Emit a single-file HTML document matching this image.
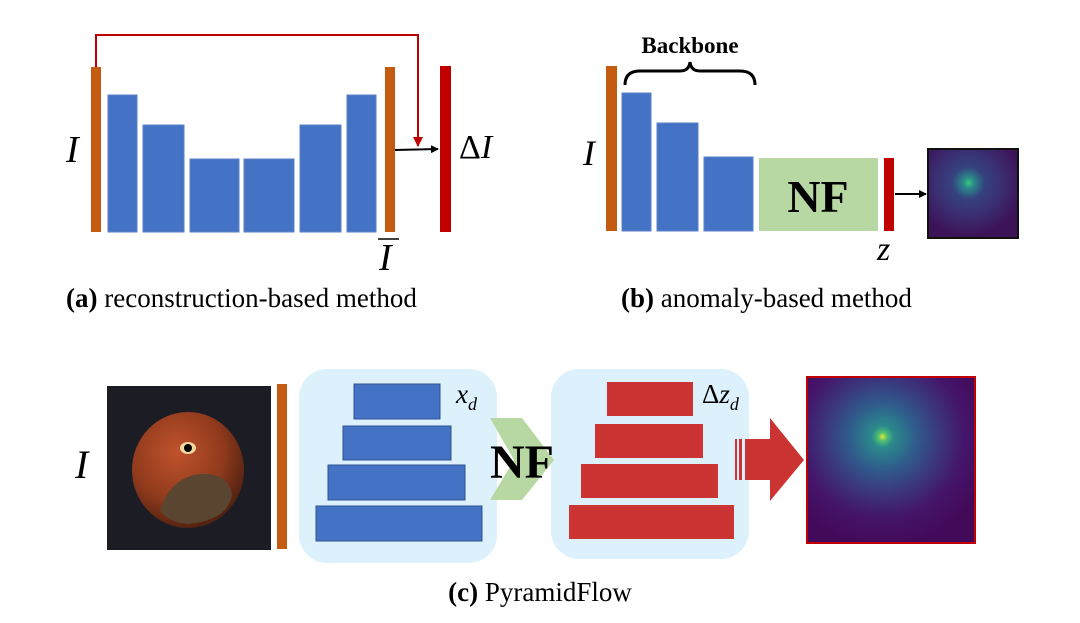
<!DOCTYPE html>
<html><head><meta charset="utf-8"><style>
body{margin:0;background:#fff;width:1080px;height:618px;overflow:hidden}
svg text{font-family:"Liberation Serif",serif}
</style></head><body>
<svg width="1080" height="618" viewBox="0 0 1080 618" xmlns="http://www.w3.org/2000/svg">
<defs>
<marker id="ar" markerWidth="8" markerHeight="8" refX="7" refY="4" orient="auto" markerUnits="userSpaceOnUse"><path d="M0,0 L8,4 L0,8 z" fill="#000"/></marker>
<marker id="arr" markerWidth="10" markerHeight="10" refX="9" refY="5" orient="auto" markerUnits="userSpaceOnUse"><path d="M0,0 L10,5 L0,10 z" fill="#c00000"/></marker>
<radialGradient id="h1" cx="0.45" cy="0.38" r="0.6">
<stop offset="0" stop-color="#3cc47a"/><stop offset="0.1" stop-color="#2a8a8a"/><stop offset="0.3" stop-color="#35427f"/><stop offset="0.6" stop-color="#3a2f72"/><stop offset="1" stop-color="#3d1358"/></radialGradient>
<radialGradient id="h2" cx="0.45" cy="0.36" r="0.65">
<stop offset="0" stop-color="#e8e830"/><stop offset="0.04" stop-color="#50c070"/><stop offset="0.1" stop-color="#2a8a8c"/><stop offset="0.3" stop-color="#2f5d8c"/><stop offset="0.5" stop-color="#3a3a80"/><stop offset="0.75" stop-color="#44156a"/><stop offset="1" stop-color="#440a5a"/></radialGradient>
<radialGradient id="nut" cx="0.4" cy="0.35" r="0.7">
<stop offset="0" stop-color="#c0522c"/><stop offset="0.6" stop-color="#8f3a1c"/><stop offset="1" stop-color="#4a1e10"/></radialGradient>
</defs>

<!-- (a) -->
<polyline points="96,67 96,35 418,35 418,146" fill="none" stroke="#c00000" stroke-width="2" marker-end="url(#arr)"/>
<rect x="91" y="67" width="10" height="165" fill="#c55a11"/>
<g fill="#4472c4" stroke="#5b82c8" stroke-width="1">
<rect x="108" y="95" width="29" height="137"/>
<rect x="143" y="125" width="41" height="107"/>
<rect x="190" y="159" width="49" height="73"/>
<rect x="244" y="159" width="50" height="73"/>
<rect x="300" y="125" width="41" height="107"/>
<rect x="347" y="95" width="29" height="137"/>
</g>
<rect x="385" y="67" width="10" height="165" fill="#c55a11"/>
<rect x="440" y="66" width="11" height="166" fill="#c00000"/>
<line x1="395" y1="150" x2="438" y2="149" stroke="#000" stroke-width="2" marker-end="url(#ar)"/>
<text x="66" y="162" font-size="38" font-style="italic">I</text>
<text x="459" y="158" font-size="34">Δ<tspan font-style="italic">I</tspan></text>
<line x1="378" y1="239" x2="399" y2="239" stroke="#000" stroke-width="1.5"/>
<text x="379" y="270" font-size="38" font-style="italic">I</text>
<text x="66" y="307" font-size="27"><tspan font-weight="bold">(a)</tspan> reconstruction-based method</text>

<!-- (b) -->
<text x="690" y="53" font-size="23" font-weight="bold" text-anchor="middle">Backbone</text>
<path d="M625,85 Q625,71 640,71 L680,71 Q689,71 690,62 Q691,71 700,71 L740,71 Q755,71 755,85" fill="none" stroke="#000" stroke-width="3"/>
<rect x="606" y="66" width="11" height="165" fill="#c55a11"/>
<g fill="#4472c4" stroke="#5b82c8" stroke-width="1">
<rect x="622" y="93" width="29" height="138"/>
<rect x="657" y="123" width="41" height="108"/>
<rect x="704" y="157" width="49" height="74"/>
</g>
<rect x="759" y="158" width="119" height="73" fill="#b7d7a3"/>
<text x="818" y="212" font-size="46" font-weight="bold" text-anchor="middle">NF</text>
<rect x="884" y="158" width="10" height="73" fill="#c00000"/>
<line x1="895" y1="194" x2="926" y2="194" stroke="#000" stroke-width="2" marker-end="url(#ar)"/>
<rect x="928" y="149" width="90" height="89" fill="url(#h1)" stroke="#111" stroke-width="2"/>
<text x="583" y="165" font-size="36" font-style="italic">I</text>
<text x="877" y="260" font-size="34" font-style="italic">z</text>
<text x="621" y="307" font-size="27"><tspan font-weight="bold">(b)</tspan> anomaly-based method</text>

<!-- (c) -->
<rect x="107" y="386" width="164" height="164" fill="#1c1d24"/>
<ellipse cx="188" cy="470" rx="56" ry="58" fill="url(#nut)"/>
<path d="M160,510 Q170,478 200,474 Q228,472 232,495 Q228,520 188,524 Q168,522 160,510z" fill="#5a4630"/>
<ellipse cx="188" cy="448" rx="8" ry="6" fill="#f0d8a0"/><circle cx="188" cy="448" r="4" fill="#000"/>
<text x="75" y="478" font-size="40" font-style="italic">I</text>
<rect x="277" y="384" width="10" height="165" fill="#c55a11"/>
<rect x="299" y="369" width="198" height="194" rx="28" fill="#ddf1fc"/>
<rect x="551" y="369" width="198" height="190" rx="28" fill="#ddf1fc"/>
<g fill="#4472c4" stroke="#2f528f" stroke-width="1">
<rect x="354" y="384" width="86" height="35"/>
<rect x="343" y="426" width="108" height="34"/>
<rect x="328" y="465" width="137" height="35"/>
<rect x="316" y="506" width="166" height="35"/>
</g>
<text x="456" y="403" font-size="27" font-style="italic">x<tspan font-size="18" dy="7">d</tspan></text>
<polygon points="490,418 522,418 554,460 522,500 490,500 514,460" fill="#b7d7a3"/>
<text x="522" y="478" font-size="48" font-weight="bold" text-anchor="middle">NF</text>
<g fill="#cc3333">
<rect x="607" y="382" width="86" height="34"/>
<rect x="595" y="424" width="108" height="34"/>
<rect x="581" y="464" width="137" height="34"/>
<rect x="569" y="505" width="165" height="34"/>
</g>
<text x="702" y="403" font-size="27">Δ<tspan font-style="italic">z</tspan><tspan font-size="18" font-style="italic" dy="7">d</tspan></text>
<rect x="735" y="439" width="2" height="41" fill="#cc3333"/>
<rect x="739" y="439" width="3" height="41" fill="#cc3333"/>
<polygon points="745,439 770,439 770,418 804,460 770,501 770,480 745,480" fill="#cc3333"/>
<rect x="807" y="377" width="168" height="166" fill="url(#h2)" stroke="#c00000" stroke-width="2"/>
<text x="540" y="601" font-size="27" text-anchor="middle"><tspan font-weight="bold">(c)</tspan> PyramidFlow</text>
</svg>
</body></html>
